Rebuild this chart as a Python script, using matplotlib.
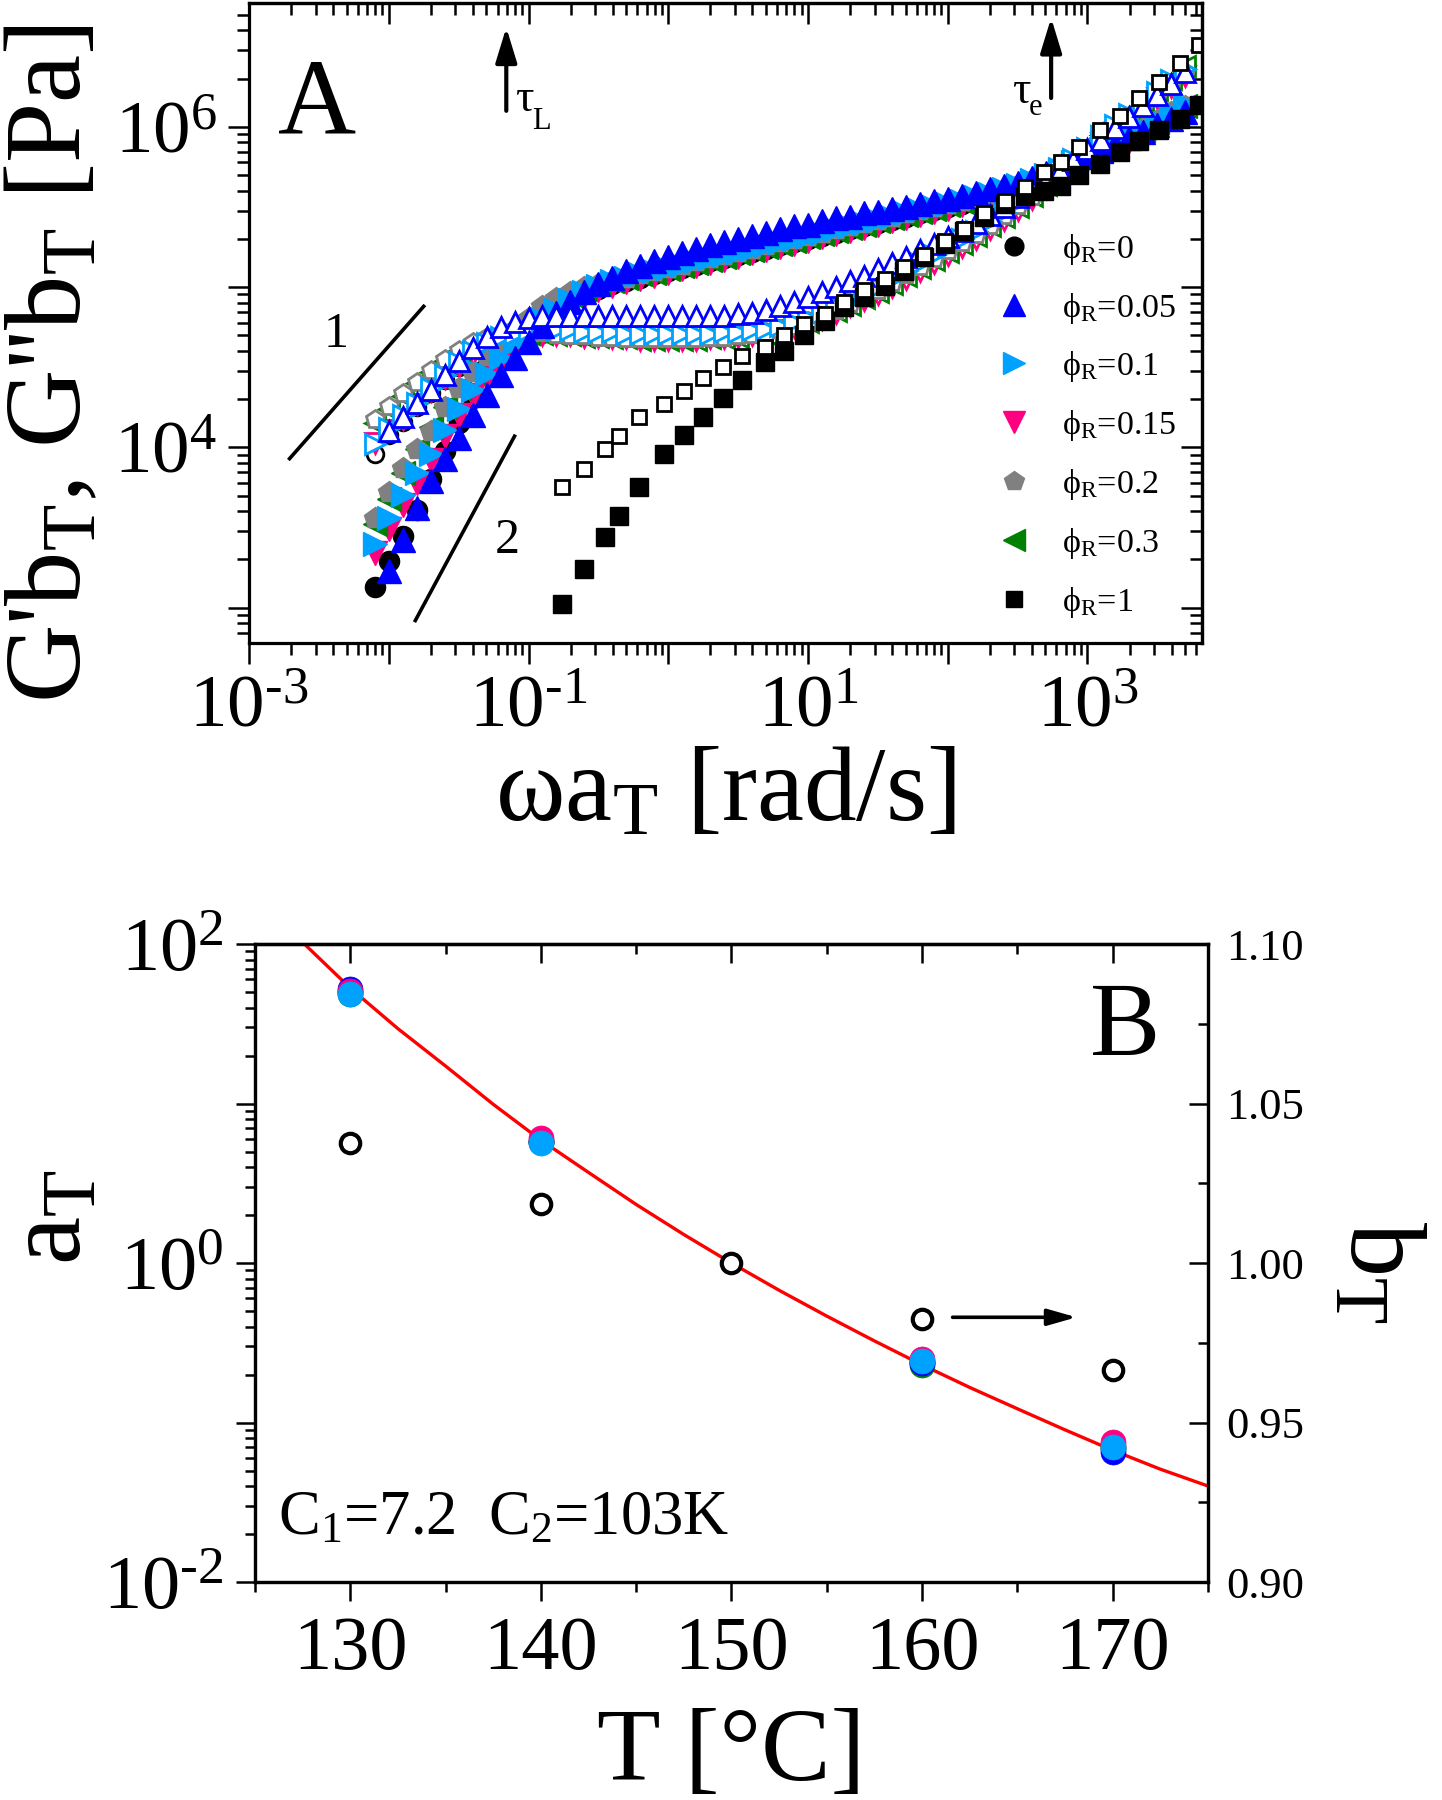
import numpy as np
import matplotlib
matplotlib.use('Agg')
import matplotlib.pyplot as plt
from matplotlib.lines import Line2D
from matplotlib.ticker import LogLocator, NullFormatter, FuncFormatter, MultipleLocator, FormatStrFormatter

plt.rcParams['font.family'] = ['Liberation Serif', 'DejaVu Serif']
plt.rcParams['mathtext.fontset'] = 'custom'
plt.rcParams['mathtext.rm'] = 'Liberation Serif'
plt.rcParams['mathtext.it'] = 'Liberation Serif:italic'
plt.rcParams['mathtext.bf'] = 'Liberation Serif:bold'

# ---------------- panel A : master curves at 150 C ----------------
# values, stored as log10
lg_w = [-2.1, -2.0, -1.9, -1.8, -1.7, -1.6, -1.5, -1.4, -1.3, -1.2,
        -1.1, -1.0, -0.9, -0.8, -0.7, -0.6, -0.5, -0.4, -0.3, -0.2,
        -0.1, 0.0, 0.1, 0.2, 0.3, 0.4, 0.5, 0.6, 0.7, 0.8,
        0.9, 1.0, 1.1, 1.2, 1.3, 1.4, 1.5, 1.6, 1.7, 1.8,
        1.9, 2.0, 2.1, 2.2, 2.3, 2.4, 2.5, 2.6, 2.7, 2.8,
        2.9, 3.0, 3.1, 3.2, 3.3, 3.4, 3.5, 3.6, 3.7]

# phi_R = 0
lgGp_0 = [3.13, 3.29, 3.45, 3.61, 3.80, 3.98, 4.15, 4.31, 4.45, 4.57,
          4.67, 4.75, 4.82, 4.87, 4.92, 4.96, 4.99, 5.02, 5.04, 5.06,
          5.08, 5.10, 5.12, 5.14, 5.16, 5.18, 5.20, 5.22, 5.24, 5.26,
          5.28, 5.30, 5.32, 5.34, 5.36, 5.38, 5.40, 5.42, 5.44, 5.46,
          5.48, 5.50, 5.52, 5.54, 5.56, 5.59, 5.62, 5.65, 5.68, 5.72,
          5.76, 5.80, 5.84, 5.88, 5.92, 5.97, 6.02, 6.07, 6.12]
lgGpp_0 = [3.96, 4.08, 4.16, 4.25, 4.34, 4.42, 4.50, 4.57, 4.62, 4.66,
           4.69, 4.70, 4.71, 4.71, 4.70, 4.70, 4.69, 4.69, 4.68, 4.68,
           4.68, 4.68, 4.68, 4.68, 4.69, 4.69, 4.70, 4.71, 4.72, 4.74,
           4.76, 4.79, 4.82, 4.86, 4.90, 4.94, 4.98, 5.03, 5.08, 5.13,
           5.18, 5.23, 5.28, 5.33, 5.39, 5.45, 5.51, 5.57, 5.64, 5.71,
           5.78, 5.85, 5.92, 5.99, 6.06, 6.13, 6.20, 6.27, 6.34]

# phi_R = 0.05
lgGp_005 = [np.nan, 3.23, 3.42, 3.62, 3.79, 3.93, 4.06, 4.20, 4.33, 4.45,
            4.56, 4.66, 4.76, 4.84, 4.91, 4.97, 5.02, 5.06, 5.10, 5.13,
            5.16, 5.19, 5.21, 5.24, 5.26, 5.28, 5.30, 5.32, 5.34, 5.36,
            5.38, 5.39, 5.41, 5.43, 5.44, 5.46, 5.47, 5.49, 5.50, 5.52,
            5.54, 5.55, 5.57, 5.59, 5.61, 5.63, 5.65, 5.68, 5.71, 5.74,
            5.78, 5.81, 5.85, 5.89, 5.93, 5.97, 6.01, 6.05, 6.09]
lgGpp_005 = [np.nan, 4.10, 4.19, 4.28, 4.36, 4.45, 4.54, 4.62, 4.69, 4.75,
             4.78, 4.81, 4.82, 4.82, 4.82, 4.82, 4.82, 4.82, 4.82, 4.82,
             4.82, 4.82, 4.82, 4.82, 4.82, 4.82, 4.83, 4.84, 4.86, 4.88,
             4.91, 4.94, 4.97, 5.00, 5.04, 5.07, 5.11, 5.15, 5.19, 5.23,
             5.27, 5.31, 5.35, 5.40, 5.45, 5.50, 5.56, 5.61, 5.67, 5.73,
             5.79, 5.86, 5.92, 5.99, 6.06, 6.13, 6.20, 6.27, 6.34]

# phi_R = 0.1
lgGp_01 = [3.40, 3.56, 3.70, 3.84, 3.96, 4.11, 4.24, 4.36, 4.46, 4.56,
           4.65, 4.73, 4.80, 4.86, 4.92, 4.97, 5.01, 5.04, 5.06, 5.08,
           5.10, 5.12, 5.14, 5.16, 5.18, 5.20, 5.22, 5.24, 5.26, 5.28,
           5.30, 5.32, 5.34, 5.36, 5.38, 5.40, 5.42, 5.44, 5.46, 5.48,
           5.50, 5.52, 5.54, 5.56, 5.58, 5.61, 5.64, 5.67, 5.70, 5.74,
           5.78, 5.82, 5.86, 5.90, 5.94, 5.99, 6.04, 6.09, 6.14]
lgGpp_01 = [4.02, 4.12, 4.20, 4.28, 4.37, 4.45, 4.53, 4.60, 4.65, 4.69,
            4.71, 4.73, 4.73, 4.73, 4.73, 4.72, 4.72, 4.72, 4.71, 4.71,
            4.71, 4.71, 4.71, 4.71, 4.71, 4.72, 4.72, 4.73, 4.74, 4.76,
            4.78, 4.81, 4.84, 4.88, 4.92, 4.96, 5.00, 5.05, 5.10, 5.15,
            5.20, 5.25, 5.30, 5.35, 5.41, 5.47, 5.53, 5.59, 5.66, 5.73,
            5.80, 5.87, 5.94, 6.01, 6.08, 6.15, 6.22, 6.29, 6.36]

# phi_R = 0.15
lgGp_015 = [3.34, 3.49, 3.64, 3.78, 3.92, 4.07, 4.20, 4.33, 4.44, 4.55,
            4.64, 4.72, 4.79, 4.85, 4.90, 4.94, 4.98, 5.01, 5.03, 5.05,
            5.07, 5.09, 5.11, 5.13, 5.15, 5.17, 5.19, 5.21, 5.23, 5.25,
            5.27, 5.29, 5.31, 5.33, 5.35, 5.37, 5.39, 5.41, 5.43, 5.45,
            5.47, 5.49, 5.51, 5.53, 5.55, 5.58, 5.61, 5.64, 5.67, 5.71,
            5.75, 5.79, 5.83, 5.87, 5.91, 5.96, 6.01, 6.06, 6.11]
lgGpp_015 = [4.03, 4.11, 4.18, 4.27, 4.35, 4.43, 4.51, 4.58, 4.63, 4.67,
             4.69, 4.70, 4.70, 4.70, 4.70, 4.69, 4.69, 4.68, 4.68, 4.67,
             4.67, 4.67, 4.67, 4.67, 4.68, 4.68, 4.69, 4.70, 4.71, 4.73,
             4.75, 4.77, 4.80, 4.84, 4.88, 4.92, 4.96, 5.00, 5.05, 5.10,
             5.15, 5.20, 5.25, 5.30, 5.36, 5.42, 5.48, 5.55, 5.62, 5.69,
             5.76, 5.83, 5.90, 5.97, 6.04, 6.11, 6.18, 6.25, 6.32]

# phi_R = 0.2
lgGp_02 = [3.56, 3.72, 3.87, 3.99, 4.10, 4.25, 4.37, 4.47, 4.57, 4.66,
           4.74, 4.81, 4.88, 4.93, 4.97, 5.00, 5.02, 5.04, 5.06, 5.08,
           5.10, 5.12, 5.14, 5.16, 5.18, 5.20, 5.22, 5.24, 5.26, 5.28,
           5.30, 5.32, 5.34, 5.36, 5.38, 5.40, 5.42, 5.44, 5.46, 5.48,
           5.50, 5.52, 5.54, 5.56, 5.58, 5.61, 5.64, 5.67, 5.70, 5.74,
           5.78, 5.82, 5.86, 5.90, 5.94, 5.99, 6.04, 6.09, 6.13]
lgGpp_02 = [4.18, 4.26, 4.34, 4.41, 4.48, 4.55, 4.61, 4.66, 4.69, 4.71,
            4.72, 4.72, 4.72, 4.71, 4.70, 4.70, 4.69, 4.69, 4.68, 4.68,
            4.68, 4.68, 4.68, 4.68, 4.69, 4.69, 4.70, 4.71, 4.72, 4.74,
            4.76, 4.79, 4.82, 4.86, 4.90, 4.94, 4.98, 5.03, 5.08, 5.13,
            5.18, 5.23, 5.28, 5.33, 5.39, 5.45, 5.51, 5.57, 5.64, 5.71,
            5.78, 5.85, 5.92, 5.99, 6.06, 6.13, 6.20, 6.27, 6.34]

# phi_R = 0.3
lgGp_03 = [3.52, 3.68, 3.84, 3.99, 4.13, 4.25, 4.37, 4.47, 4.57, 4.66,
           4.74, 4.80, 4.86, 4.91, 4.95, 4.99, 5.02, 5.04, 5.06, 5.08,
           5.09, 5.11, 5.13, 5.15, 5.17, 5.19, 5.21, 5.23, 5.25, 5.27,
           5.29, 5.31, 5.33, 5.35, 5.37, 5.39, 5.41, 5.43, 5.45, 5.47,
           5.49, 5.51, 5.53, 5.55, 5.57, 5.60, 5.63, 5.66, 5.69, 5.73,
           5.77, 5.81, 5.85, 5.89, 5.93, 5.98, 6.03, 6.08, 6.13]
lgGpp_03 = [4.15, 4.24, 4.32, 4.40, 4.47, 4.54, 4.60, 4.65, 4.68, 4.70,
            4.71, 4.71, 4.71, 4.70, 4.70, 4.69, 4.69, 4.68, 4.68, 4.67,
            4.67, 4.67, 4.67, 4.67, 4.68, 4.68, 4.69, 4.70, 4.71, 4.73,
            4.75, 4.78, 4.81, 4.85, 4.89, 4.93, 4.97, 5.02, 5.07, 5.12,
            5.17, 5.22, 5.27, 5.32, 5.38, 5.44, 5.50, 5.57, 5.64, 5.74,
            5.81, 5.88, 5.95, 6.02, 6.09, 6.16, 6.23, 6.30, 6.38]

# phi_R = 1 (rings)
lg_w_ring = [-0.76, -0.60, -0.455, -0.35, -0.21, -0.03, 0.11, 0.25, 0.39, 0.53,
             0.69, 0.83, 0.97, 1.12, 1.26, 1.40, 1.55, 1.69, 1.83, 1.98,
             2.12, 2.26, 2.41, 2.55, 2.69, 2.81, 2.94, 3.09, 3.23, 3.37,
             3.51, 3.66, 3.80]
lgGp_1 = [3.025, 3.24, 3.44, 3.57, 3.75, 3.96, 4.08, 4.19, 4.31, 4.42,
          4.53, 4.60, 4.70, 4.79, 4.875, 4.94, 5.01, 5.10, 5.19, 5.27,
          5.35, 5.44, 5.52, 5.57, 5.60, 5.63, 5.70, 5.77, 5.84, 5.91,
          5.98, 6.05, 6.135]
lgGpp_1 = [3.75, 3.865, 3.99, 4.07, 4.19, 4.27, 4.35, 4.43, 4.50, 4.57,
           4.625, 4.70, 4.77, 4.83, 4.91, 4.98, 5.05, 5.125, 5.20, 5.29,
           5.365, 5.46, 5.54, 5.625, 5.72, 5.78, 5.875, 5.98, 6.07, 6.18,
           6.28, 6.40, 6.51]

phi_labels = ['0', '0.05', '0.1', '0.15', '0.2', '0.3', '1']
phi_colors = ['black', '#0000ff', '#00a2ff', '#ff0080', '#808080', '#008000', 'black']
phi_markers = ['o', '^', '>', 'v', 'p', '<', 's']

# slope guides and relaxation-time arrows (log10 coordinates)
slope1_lgw, slope1_lgG = [-2.71, -1.75], [3.93, 4.88]
slope2_lgw, slope2_lgG = [-1.81, -1.10], [2.92, 4.07]
tauL_lgw, tauL_lgG = -1.159, [6.10, 6.62]
taue_lgw, taue_lgG = 2.74, [6.18, 6.68]

# ---------------- panel B : shift factors ----------------
T_shift = [130, 140, 160, 170]
aT_phi = {
    '0':    [50.0, 5.75, 0.240, 0.070],
    '0.3':  [49.0, 5.75, 0.228, 0.068],
    '0.2':  [49.5, 5.75, 0.238, 0.071],
    '0.05': [52.0, 5.80, 0.236, 0.065],
    '0.15': [50.5, 6.05, 0.249, 0.076],
    '0.1':  [48.5, 5.70, 0.243, 0.070],
}
T_b = [130, 140, 150, 160, 170]
bT = [1.0376, 1.0185, 1.000, 0.9825, 0.9664]
T_wlf = [127.6, 130, 132.5, 135, 137.5, 140, 142.5, 145, 147.5, 150, 152.5,
         155, 157.5, 160, 162.5, 165, 167.5, 170, 172.5, 175]
aT_wlf = [100, 53, 29.5, 17.2, 9.9, 5.9, 3.7, 2.33, 1.51, 1.0, 0.675,
          0.465, 0.325, 0.230, 0.166, 0.122, 0.090, 0.067, 0.051, 0.040]
arrow_T, arrow_b = [161.6, 168.1], 0.983

fig = plt.figure(figsize=(14.42, 18.0), dpi=100)
axA = fig.add_axes([0.1727, 0.6428, 0.6609, 0.3553])
axB = fig.add_axes([0.1768, 0.1211, 0.6609, 0.3544])

ms_f = {'o': 14.5, '^': 17, 'v': 17, '>': 17, '<': 17, 'p': 16, 's': 12.5}
w = 10 ** np.array(lg_w)
lin_Gp = [lgGp_0, lgGp_005, lgGp_01, lgGp_015, lgGp_02, lgGp_03]
lin_Gpp = [lgGpp_0, lgGpp_005, lgGpp_01, lgGpp_015, lgGpp_02, lgGpp_03]
for i in [0, 3, 5, 4, 2, 1]:
    c, m = phi_colors[i], phi_markers[i]
    axA.plot(w, 10 ** np.array(lin_Gp[i]), ls='none', marker=m, ms=ms_f[m],
             mfc=c, mec=c, mew=1)
    axA.plot(w, 10 ** np.array(lin_Gpp[i]), ls='none', marker=m, ms=ms_f[m] - 2.5,
             mfc='white', mec=c, mew=2)
w_ring = 10 ** np.array(lg_w_ring)
axA.plot(w_ring, 10 ** np.array(lgGp_1), ls='none', marker='s', ms=12.5, mfc='k', mec='k', mew=1)
axA.plot(w_ring, 10 ** np.array(lgGpp_1), ls='none', marker='s', ms=10.5, mfc='white', mec='k', mew=2)

axA.plot(10 ** np.array(slope1_lgw), 10 ** np.array(slope1_lgG), 'k-', lw=2.6)
axA.plot(10 ** np.array(slope2_lgw), 10 ** np.array(slope2_lgG), 'k-', lw=2.6)
axA.text(10 ** -2.375, 10 ** 4.70, '1', fontsize=36, ha='center', va='center')
axA.text(10 ** -1.152, 10 ** 3.42, '2', fontsize=36, ha='center', va='center')

arr = dict(arrowstyle='-|>,head_length=0.85,head_width=0.26', color='k', lw=3.0,
           mutation_scale=25, shrinkA=0, shrinkB=0)
axA.annotate('', xy=(10 ** tauL_lgw, 10 ** tauL_lgG[1]), xytext=(10 ** tauL_lgw, 10 ** tauL_lgG[0]),
             arrowprops=arr)
axA.annotate('', xy=(10 ** taue_lgw, 10 ** taue_lgG[1]), xytext=(10 ** taue_lgw, 10 ** taue_lgG[0]),
             arrowprops=arr)
# tau labels with the subscript set well below the baseline, as in the original
axA.text(10 ** -1.087, 10 ** 6.098, 'τ', fontsize=33, ha='left', va='baseline')
axA.text(10 ** -0.975, 10 ** 5.986, 'L', fontsize=22, ha='left', va='baseline')
axA.text(10 ** 2.466, 10 ** 6.148, 'τ', fontsize=33, ha='left', va='baseline')
axA.text(10 ** 2.578, 10 ** 6.073, 'e', fontsize=22, ha='left', va='baseline')
axA.text(0.030, 0.797, 'A', fontsize=78, transform=axA.transAxes, ha='left', va='baseline')

handles = [Line2D([], [], ls='none', marker=phi_markers[i], color=phi_colors[i],
                  ms=ms_f[phi_markers[i]] - 1, label='ϕ$_\\mathrm{R}$=' + phi_labels[i])
           for i in range(7)]
axA.legend(handles=handles, loc='upper left', bbox_to_anchor=(0.785, 0.643), frameon=False,
           fontsize=24.5, handlelength=1.0, handletextpad=0.91, labelspacing=0.70,
           borderpad=0, borderaxespad=0)


def dec_fmt(shown):
    def f(v, pos):
        e = int(round(np.log10(v)))
        if e not in shown:
            return ''
        return r'$\mathrm{10^{%s}}$' % str(e).replace('-', '\u2010')
    return FuncFormatter(f)


axA.set_xscale('log')
axA.set_yscale('log')
axA.set_xlim(1e-3, 10 ** 3.82)
axA.set_ylim(10 ** 2.78, 10 ** 6.77)
for a in [axA.xaxis, axA.yaxis]:
    a.set_major_locator(LogLocator(base=10, numticks=20))
    a.set_minor_locator(LogLocator(base=10, subs=np.arange(2, 10), numticks=20))
    a.set_minor_formatter(NullFormatter())
axA.xaxis.set_major_formatter(dec_fmt([-3, -1, 1, 3]))
axA.yaxis.set_major_formatter(dec_fmt([4, 6]))
axA.tick_params(which='both', direction='out', top=False, right=False, width=1.8,
                labelsize=54, pad=8)
axA.tick_params(which='major', length=15)
axA.tick_params(which='minor', length=8.5)
secx = axA.secondary_xaxis('top')
secy = axA.secondary_yaxis('right')
for s, a in [(secx, secx.xaxis), (secy, secy.yaxis)]:
    a.set_major_locator(LogLocator(base=10, numticks=20))
    a.set_minor_locator(LogLocator(base=10, subs=np.arange(2, 10), numticks=20))
    a.set_major_formatter(NullFormatter())
    a.set_minor_formatter(NullFormatter())
    s.tick_params(which='both', direction='in', width=1.8)
    s.tick_params(which='major', length=15)
    s.tick_params(which='minor', length=8.5)
for sp in list(axA.spines.values()) + [secx.spines['top'], secy.spines['right']]:
    sp.set_linewidth(2.3)

axA.set_xlabel('ωa$_\\mathrm{T}$ [rad/s]', fontsize=76, va='top')
axA.xaxis.set_label_coords(0.5, -0.162)
axA.set_ylabel("G'b$_\\mathrm{T}$, G''b$_\\mathrm{T}$ [Pa]", fontsize=78)
axA.yaxis.set_label_coords(-0.153, 0.437)

# ---------------- panel B ----------------
axB.plot(T_wlf, aT_wlf, color='#ff0000', lw=2.4, zorder=2)
for lab in ['0', '0.3', '0.2', '0.05', '0.15', '0.1']:
    c = phi_colors[phi_labels.index(lab)]
    axB.plot(T_shift, aT_phi[lab], ls='none', marker='o', ms=18, mfc=c, mec=c, mew=0.5, zorder=3)
axB.set_yscale('log')
axB.set_xlim(125, 175)
axB.set_ylim(1e-2, 1e2)
axB.xaxis.set_major_locator(MultipleLocator(10))
axB.xaxis.set_minor_locator(MultipleLocator(5))
axB.yaxis.set_major_locator(LogLocator(base=10, numticks=20))
axB.yaxis.set_minor_locator(LogLocator(base=10, subs=np.arange(2, 10), numticks=20))
axB.yaxis.set_minor_formatter(NullFormatter())
axB.yaxis.set_major_formatter(dec_fmt([-2, 0, 2]))
axB.tick_params(which='both', direction='out', top=False, right=False, width=1.8, labelsize=55)
axB.tick_params(axis='x', pad=11)
axB.tick_params(axis='y', pad=9)
axB.tick_params(which='major', length=13.7)
axB.tick_params(which='minor', length=7.2)
secxB = axB.secondary_xaxis('top')
secxB.xaxis.set_major_locator(MultipleLocator(10))
secxB.xaxis.set_minor_locator(MultipleLocator(5))
secxB.tick_params(which='both', direction='in', labeltop=False, width=1.8)
secxB.tick_params(which='major', length=13.7)
secxB.tick_params(which='minor', length=7.2)

axB2 = axB.twinx()
axB2.plot(T_b, bT, ls='none', marker='o', ms=14, mfc='white', mec='k', mew=3.0, zorder=4)
axB2.annotate('', xy=(arrow_T[1], arrow_b), xytext=(arrow_T[0], arrow_b),
              arrowprops=dict(arrowstyle='-|>,head_length=0.7,head_width=0.2', color='k',
                              lw=2.6, mutation_scale=25, shrinkA=0, shrinkB=0))
axB2.set_ylim(0.90, 1.10)
axB2.yaxis.set_major_locator(MultipleLocator(0.05))
axB2.yaxis.set_minor_locator(MultipleLocator(0.025))
axB2.yaxis.set_major_formatter(FormatStrFormatter('%.2f'))
axB2.tick_params(which='both', direction='in', width=1.8, labelsize=32, pad=13)
axB2.tick_params(which='major', length=13.7)
axB2.tick_params(which='minor', length=7.2)
for sp in list(axB.spines.values()) + list(axB2.spines.values()) + [secxB.spines['top']]:
    sp.set_linewidth(2.3)

axB.text(0.9135, 0.866, 'B', fontsize=76, transform=axB.transAxes, ha='center', va='center')
axB.text(0.024, 0.0745, 'C$_\\mathrm{1}$=7.2  C$_\\mathrm{2}$=103K', fontsize=45,
         transform=axB.transAxes, ha='left', va='baseline')

axB.set_xlabel('T [°C]', fontsize=75, va='top')
axB.xaxis.set_label_coords(0.5, -0.197)
axB.set_ylabel('a$_\\mathrm{T}$', fontsize=78)
axB.yaxis.set_label_coords(-0.159, 0.572)
axB2.set_ylabel('b$_\\mathrm{T}$', fontsize=78, rotation=270, va='bottom')
axB2.yaxis.set_label_coords(1.126, 0.486)

fig.savefig('out.png', dpi=100)
